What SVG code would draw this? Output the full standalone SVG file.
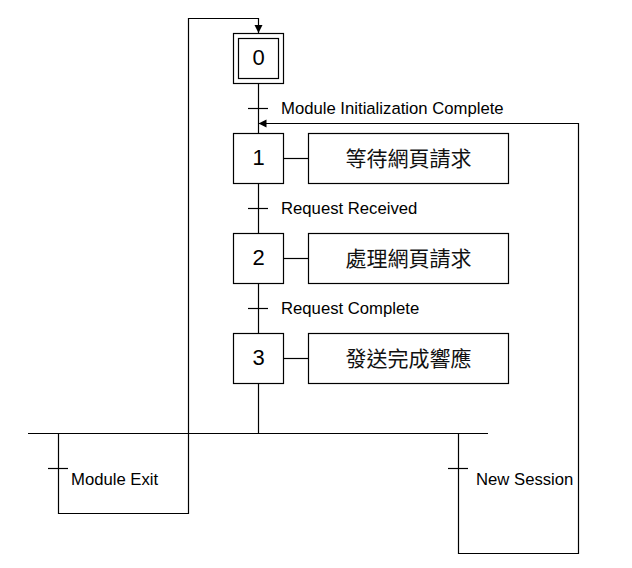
<svg xmlns="http://www.w3.org/2000/svg" width="632" height="568" viewBox="0 0 632 568">
<defs>
<style>
.ln{fill:none;stroke:#000;stroke-width:1.2}
.box{fill:#fff;stroke:#000;stroke-width:1.2}
.num{font-family:"Liberation Sans",Arial,sans-serif;font-size:22px;text-anchor:middle;fill:#000}
.act{font-family:"Noto Sans CJK TC","Noto Sans CJK SC",sans-serif;font-size:21px;text-anchor:middle;fill:#111}
.lbl{font-family:"Liberation Sans",Arial,sans-serif;font-size:16.7px;fill:#000}
</style>
<marker id="arr" viewBox="0 0 10 10" refX="10" refY="5" markerWidth="8" markerHeight="11" markerUnits="userSpaceOnUse" orient="auto">
<path d="M0,0 L10,5 L0,10 Z" fill="#000"/>
</marker>
</defs>
<rect width="632" height="568" fill="#fff"/>
<g id="connectors">
<path class="ln" d="M258.5,83 V133"/>
<path class="ln" d="M258.5,183 V233"/>
<path class="ln" d="M258.5,283 V333"/>
<path class="ln" d="M258.5,383 V433.5"/>
<path class="ln" d="M283,158.5 H308"/>
<path class="ln" d="M283,258.5 H308"/>
<path class="ln" d="M283,358.5 H308"/>
<path class="ln" d="M28,433.5 H488"/>
<path class="ln" d="M58.5,433.5 V513.5 H188.5 V18.5 H258.5 V33" marker-end="url(#arr)"/>
<path class="ln" d="M458.5,433.5 V553.5 H578.5 V123.5 H258.5" marker-end="url(#arr)"/>
<path class="ln" d="M248,108.5 H268"/>
<path class="ln" d="M248,208.5 H268"/>
<path class="ln" d="M248,308.5 H268"/>
<path class="ln" d="M48,468.5 H68"/>
<path class="ln" d="M448,468.5 H468"/>
<text class="lbl" x="281" y="114">Module Initialization Complete</text>
<text class="lbl" x="281" y="214">Request Received</text>
<text class="lbl" x="281" y="314">Request Complete</text>
<text class="lbl" x="71" y="485">Module Exit</text>
<text class="lbl" x="476" y="485">New Session</text>
</g>
<g id="step0">
<rect class="box" x="233.5" y="33.5" width="50" height="50"/>
<rect class="box" x="238.5" y="38.5" width="40" height="40"/>
<text class="num" x="258.5" y="65">0</text>
</g>
<g id="step1">
<rect class="box" x="233.5" y="133.5" width="50" height="50"/>
<text class="num" x="258.5" y="165">1</text>
</g>
<g id="action1">
<rect class="box" x="308.5" y="133.5" width="200" height="50"/>
<text class="act" x="408.5" y="166">等待網頁請求</text>
</g>
<g id="step2">
<rect class="box" x="233.5" y="233.5" width="50" height="50"/>
<text class="num" x="258.5" y="265">2</text>
</g>
<g id="action2">
<rect class="box" x="308.5" y="233.5" width="200" height="50"/>
<text class="act" x="408.5" y="266">處理網頁請求</text>
</g>
<g id="step3">
<rect class="box" x="233.5" y="333.5" width="50" height="50"/>
<text class="num" x="258.5" y="365">3</text>
</g>
<g id="action3">
<rect class="box" x="308.5" y="333.5" width="200" height="50"/>
<text class="act" x="408.5" y="366">發送完成響應</text>
</g>
</svg>
